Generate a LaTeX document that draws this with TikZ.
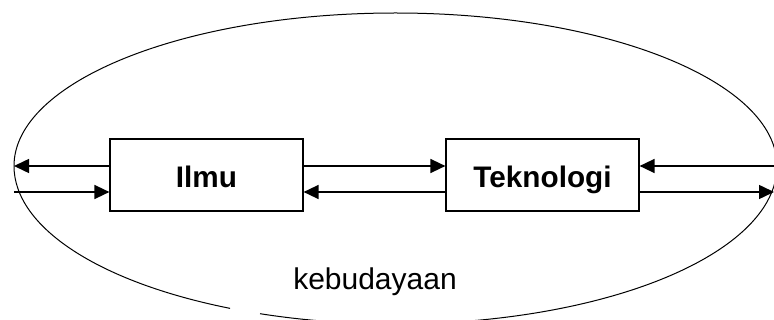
\documentclass[tikz,border=0pt]{standalone}
\usepackage{fontspec}
\setmainfont{Liberation Sans}
\usetikzlibrary{arrows.meta}
\begin{document}
\begin{tikzpicture}[x=1pt,y=-1pt,
  box/.style={draw,line width=1.2pt,minimum width=193pt,minimum height=72pt,inner sep=0pt,
    font=\fontsize{29.7}{32}\selectfont\bfseries,text height=26pt,text depth=0pt},
  arr/.style={line width=1.5pt,-{Triangle[length=15pt,width=14pt]}},
  oval/.style={line width=1pt}]
\useasboundingbox (0,0) rectangle (774,320);
\begin{scope}
\clip (0,0) rectangle (774,320);
\draw[oval] (14,166) arc[start angle=180,end angle=360,x radius=381.5,y radius=153]
  arc[start angle=0,end angle=110.8,x radius=381.5,y radius=158];
\draw[oval] (14,166) arc[start angle=180,end angle=115.7,x radius=381.5,y radius=158];
\end{scope}
\node[box] (ilmu) at (206.5,175) {Ilmu};
\node[box] (tek) at (542.5,175) {Teknologi};
\node[font=\fontsize{30}{32}\selectfont,anchor=base,inner sep=0pt] (keb) at (375,290) {kebudayaan};
\coordinate (L1) at (14,166);
\coordinate (L2) at (14,192);
\coordinate (R1) at (774,166);
\coordinate (R2) at (774,192);
\draw[arr] (ilmu.west |- L1) -- (L1);
\draw[arr] (L2) -- (ilmu.west |- L2);
\draw[arr] (ilmu.east |- L1) -- (tek.west |- L1);
\draw[arr] (tek.west |- L2) -- (ilmu.east |- L2);
\draw[arr] (R1) -- (tek.east |- R1);
\draw[arr] (tek.east |- R2) -- (R2);
\end{tikzpicture}
\end{document}
